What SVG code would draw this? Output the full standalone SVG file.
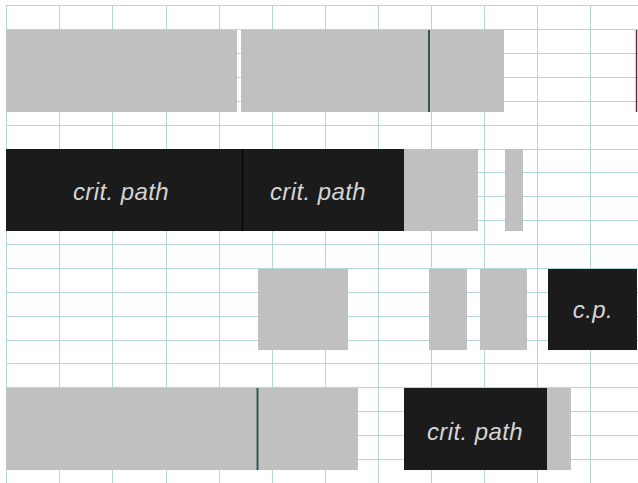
<svg xmlns="http://www.w3.org/2000/svg" width="638" height="483" viewBox="0 0 638 483">
<style>
.g{stroke:#b4d6d6;stroke-width:1;fill:none}
.bar{fill:#c0c0c0}
.cp{fill:#1b1b1b}
.t{font-family:"Liberation Sans",Arial,sans-serif;font-style:italic;font-size:24px;fill:#d4d4d4;text-anchor:middle;letter-spacing:0.4px}
.div{stroke:#2f5858;stroke-width:2}
</style>
<rect width="638" height="483" fill="#ffffff"/>
<g id="grid" class="g">
<path d="M6.5 5V483M59.5 5V483M112.5 5V483M166.5 5V483M219.5 5V483M272.5 5V483M325.5 5V483M378.5 5V483M431.5 5V483M484.5 5V483M537.5 5V483M590.5 5V483"/>
<path d="M6 5.5H638M6 29.5H638M6 53.5H638M6 77.5H638M6 101.5H638M6 125.5H638M6 149.5H638M6 172.5H638M6 196.5H638M6 220.5H638M6 244.5H638M6 268.5H638M6 292.5H638M6 316.5H638M6 340.5H638M6 363.5H638M6 387.5H638M6 411.5H638M6 435.5H638M6 459.5H638"/>
</g>
<g id="row1">
<rect id="r1a" class="bar" x="6" y="30" width="231" height="82"/>
<rect id="r1b" class="bar" x="241" y="30" width="188" height="82"/>
<rect id="r1c" class="bar" x="429" y="30" width="75" height="82"/>
<line class="div" x1="429" y1="30" x2="429" y2="112"/>
<line x1="636.5" y1="30" x2="636.5" y2="112" stroke="#5a3838" stroke-width="1.5"/>
</g>
<g id="row2">
<rect id="r2a" class="cp" x="6" y="149" width="236" height="82"/>
<rect id="r2b" class="cp" x="242" y="149" width="162" height="82"/>
<line x1="242.5" y1="149" x2="242.5" y2="231" stroke="#050505" stroke-width="1.5"/>
<text class="t" x="121" y="200">crit. path</text>
<text class="t" x="318" y="200">crit. path</text>
<rect id="r2c" class="bar" x="404" y="149" width="74" height="82"/>
<rect id="r2d" class="bar" x="505" y="149" width="18" height="82"/>
</g>
<g id="row3">
<rect id="r3a" class="bar" x="258" y="269" width="90" height="81"/>
<rect id="r3b" class="bar" x="429" y="269" width="38" height="81"/>
<rect id="r3c" class="bar" x="480" y="269" width="47" height="81"/>
<rect id="r3d" class="cp" x="548" y="269" width="89" height="81"/>
<text class="t" x="593" y="318">c.p.</text>
</g>
<g id="row4">
<rect id="r4a" class="bar" x="6" y="388" width="251" height="82"/>
<rect id="r4b" class="bar" x="257" y="388" width="101" height="82"/>
<line class="div" x1="257.5" y1="388" x2="257.5" y2="470" stroke="#3a6666"/>
<rect id="r4c" class="cp" x="404" y="388" width="143" height="82"/>
<text class="t" x="475" y="440">crit. path</text>
<rect id="r4d" class="bar" x="547" y="388" width="24" height="82"/>
</g>
</svg>
